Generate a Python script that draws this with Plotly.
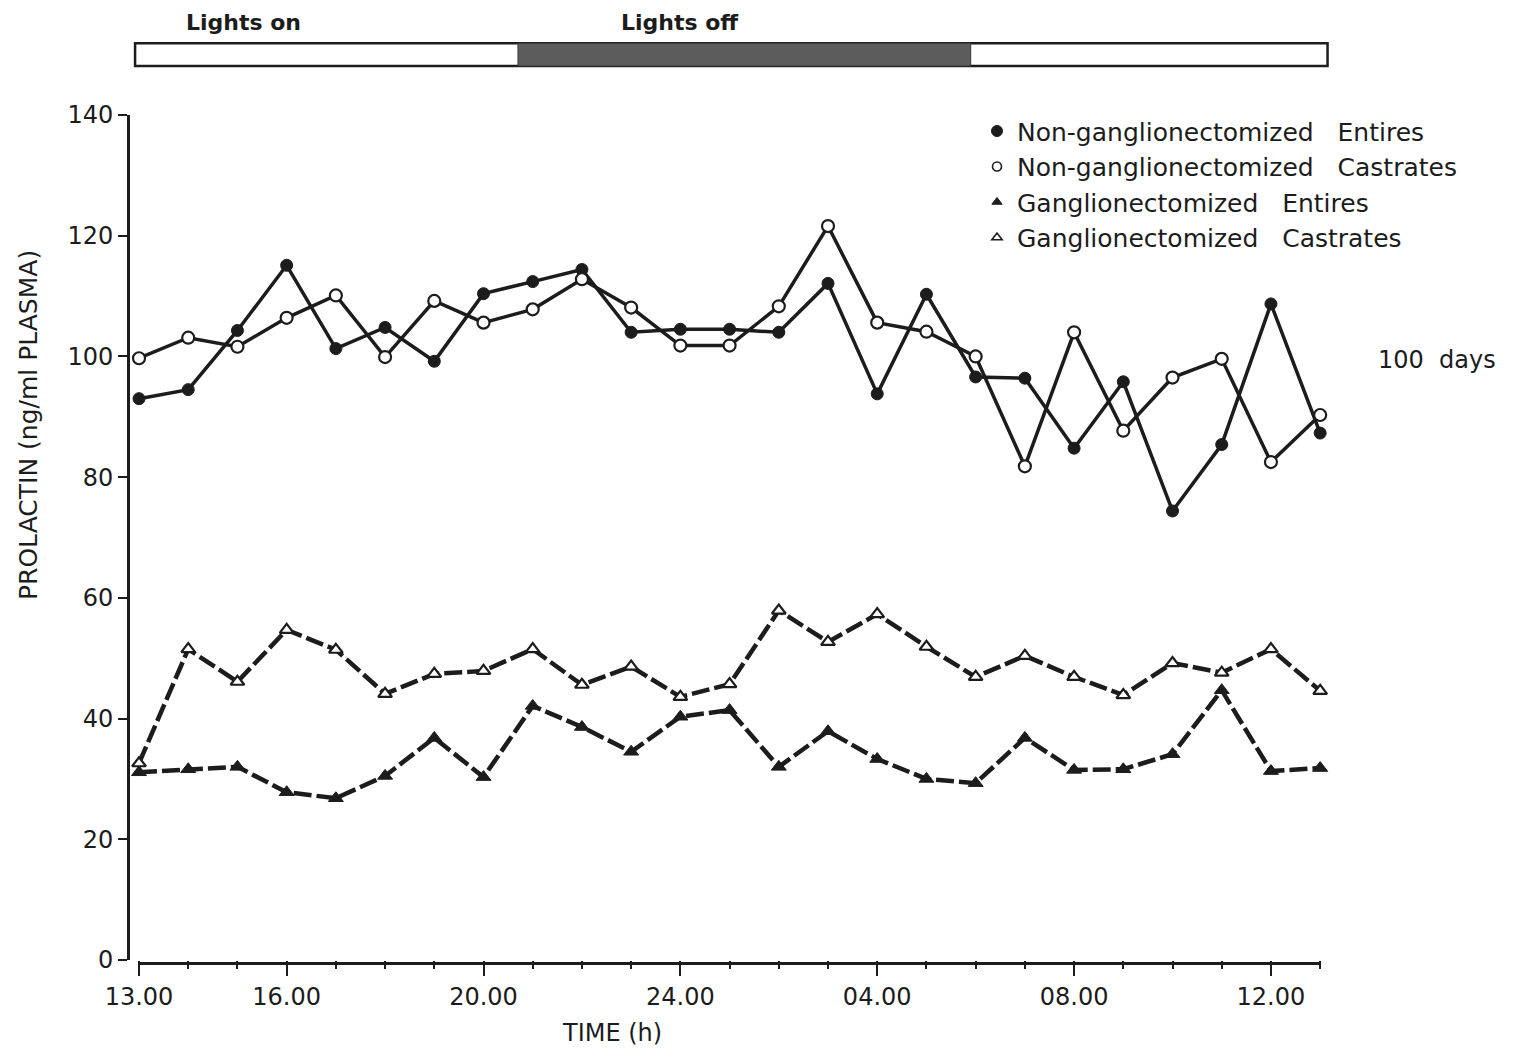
import plotly.graph_objects as go

# Sampling times: hourly from 13.00 to 13.00 next day (hours after 13.00)
hours = list(range(25))

# Plasma prolactin (ng/ml), 100 days
ng_entires = [93.0, 94.5, 104.3, 115.1, 101.3, 104.8, 99.2, 110.4, 112.4, 114.4,
              104.0, 104.5, 104.5, 104.0, 112.1, 93.8, 110.3, 96.6, 96.4, 84.8,
              95.8, 74.4, 85.4, 108.7, 87.3]
ng_castrates = [99.7, 103.1, 101.6, 106.4, 110.1, 99.9, 109.2, 105.6, 107.8, 112.8,
                108.1, 101.8, 101.8, 108.3, 121.6, 105.6, 104.1, 100.0, 81.8, 104.0,
                87.7, 96.5, 99.6, 82.5, 90.3]
g_entires = [31.1, 31.6, 32.0, 27.8, 26.8, 30.5, 36.8, 30.3, 42.1, 38.6,
             34.5, 40.3, 41.4, 32.0, 37.9, 33.3, 30.0, 29.3, 36.8, 31.5,
             31.6, 34.1, 44.7, 31.3, 31.8]
g_castrates = [32.6, 51.5, 46.1, 54.7, 51.4, 44.1, 47.4, 47.9, 51.5, 45.6,
               48.6, 43.6, 45.7, 57.9, 52.7, 57.3, 51.9, 46.9, 50.4, 46.9,
               43.9, 49.2, 47.6, 51.5, 44.6]

tick_hours = [0, 3, 7, 11, 15, 19, 23]
tick_labels = ["13.00", "16.00", "20.00", "24.00", "04.00", "08.00", "12.00"]
y_ticks = [0, 20, 40, 60, 80, 100, 120, 140]

series_names = ["Non-ganglionectomized   Entires",
                "Non-ganglionectomized   Castrates",
                "Ganglionectomized   Entires",
                "Ganglionectomized   Castrates"]

INK = "#1c1c1c"
FONT = "DejaVu Sans"
X_RANGE = [-0.183, 24.2]


def xpaper(h):
    return (h - X_RANGE[0]) / (X_RANGE[1] - X_RANGE[0])


fig = go.Figure()

# triangles (dashed thick lines)
fig.add_trace(go.Scatter(
    x=hours, y=g_entires, mode="lines+markers", showlegend=False,
    line=dict(color=INK, width=4.5, dash="18px,5px"),
    marker=dict(symbol="triangle-up", size=13, color=INK,
                line=dict(color=INK, width=1)),
    cliponaxis=False))
fig.add_trace(go.Scatter(
    x=hours, y=g_castrates, mode="lines+markers", showlegend=False,
    line=dict(color=INK, width=4.5, dash="18px,5px"),
    marker=dict(symbol="triangle-up", size=12, color="white",
                line=dict(color=INK, width=2.2)),
    cliponaxis=False))

# circles (solid lines)
fig.add_trace(go.Scatter(
    x=hours, y=ng_entires, mode="lines+markers", showlegend=False,
    line=dict(color=INK, width=3.5),
    marker=dict(symbol="circle", size=12, color=INK,
                line=dict(color=INK, width=1)),
    cliponaxis=False))
fig.add_trace(go.Scatter(
    x=hours, y=ng_castrates, mode="lines+markers", showlegend=False,
    line=dict(color=INK, width=3.5),
    marker=dict(symbol="circle", size=12, color="white",
                line=dict(color=INK, width=2.2)),
    cliponaxis=False))

# legend keys (symbol only)
legend_markers = [
    dict(symbol="circle", size=11, color=INK, line=dict(color=INK, width=1)),
    dict(symbol="circle-open", size=9, color=INK, line=dict(color=INK, width=1.6)),
    dict(symbol="triangle-up", size=9, color=INK, line=dict(color=INK, width=1)),
    dict(symbol="triangle-up-open", size=9, color=INK, line=dict(color=INK, width=1.6)),
]
for name, mk in zip(series_names, legend_markers):
    fig.add_trace(go.Scatter(x=[None], y=[None], mode="markers", name=name,
                             marker=mk, showlegend=True))

# light/dark bar above the plot
bar_y0, bar_y1 = 1.058, 1.085
lights_off_start, lights_off_end = 7.7, 16.9
shapes = [
    dict(type="rect", xref="paper", yref="paper",
         x0=xpaper(-0.08), x1=xpaper(24.15), y0=bar_y0, y1=bar_y1,
         fillcolor="white", line=dict(color=INK, width=2.5)),
    dict(type="rect", xref="paper", yref="paper",
         x0=xpaper(lights_off_start), x1=xpaper(lights_off_end), y0=bar_y0, y1=bar_y1,
         fillcolor="#5c5c5c", line=dict(color="#3a3a3a", width=1)),
    # x axis baseline
    dict(type="line", xref="paper", yref="paper",
         x0=xpaper(0), x1=xpaper(24), y0=-0.004, y1=-0.004,
         line=dict(color=INK, width=3)),
]

annotations = [
    dict(text="<b>Lights on</b>", xref="paper", yref="paper", x=(243 - 130) / 1200,
         y=(960 - 22) / 845, xanchor="center", yanchor="middle",
         showarrow=False, font=dict(family=FONT, size=22, color=INK)),
    dict(text="<b>Lights off</b>", xref="paper", yref="paper", x=(680 - 130) / 1200,
         y=(960 - 22) / 845, xanchor="center", yanchor="middle",
         showarrow=False, font=dict(family=FONT, size=22, color=INK)),
    dict(text="100  days", xref="paper", yref="paper", x=(1437 - 130) / 1200,
         y=(960 - 360) / 845, xanchor="center", yanchor="middle", showarrow=False,
         font=dict(family=FONT, size=24, color=INK)),
    dict(text="PROLACTIN (ng/ml PLASMA)", xref="paper", yref="paper",
         x=(28 - 130) / 1200, y=(960 - 425) / 845, textangle=-90,
         xanchor="center", yanchor="middle",
         showarrow=False, font=dict(family=FONT, size=25, color=INK)),
    dict(text="TIME (h)", xref="paper", yref="paper", x=(612 - 130) / 1200,
         y=(960 - 1033) / 845, xanchor="center", yanchor="middle", showarrow=False,
         font=dict(family=FONT, size=24, color=INK)),
]

fig.update_layout(
    width=1513, height=1052,
    margin=dict(l=130, r=183, t=115, b=92),
    paper_bgcolor="white", plot_bgcolor="white",
    font=dict(family=FONT, size=24, color=INK),
    shapes=shapes, annotations=annotations,
    showlegend=True,
    legend=dict(x=(977 - 130) / 1200, y=1.008, xanchor="left", yanchor="top",
                bgcolor="rgba(0,0,0,0)", itemwidth=30,
                font=dict(family=FONT, size=25, color=INK)),
    xaxis=dict(range=X_RANGE, showgrid=False, zeroline=False, showline=False,
               tickmode="array", tickvals=tick_hours, ticktext=tick_labels,
               ticks="outside", ticklen=15, tickwidth=2, tickcolor=INK,
               tickfont=dict(family=FONT, size=24, color=INK),
               minor=dict(tickmode="linear", tick0=0, dtick=1, ticks="outside",
                          ticklen=8, tickwidth=2, tickcolor=INK, showgrid=False)),
    yaxis=dict(range=[0, 140], showgrid=False, zeroline=False,
               showline=True, linecolor=INK, linewidth=3,
               tickmode="array", tickvals=y_ticks,
               ticks="outside", ticklen=9, tickwidth=2, tickcolor=INK,
               tickfont=dict(family=FONT, size=24, color=INK)),
)

fig.write_html("out.html")
